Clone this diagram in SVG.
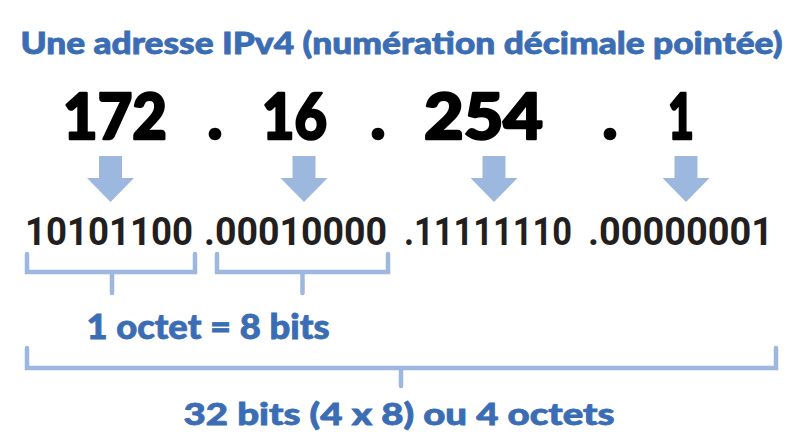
<svg xmlns="http://www.w3.org/2000/svg" width="800" height="440" viewBox="0 0 800 440">
<style>
.blue{fill:#3b6db5;stroke:#3b6db5;stroke-width:0.8;font-family:Lato,"Open Sans","Liberation Sans",sans-serif;font-weight:900}
.big{fill:#000;stroke:#000;stroke-width:2.4;stroke-linejoin:round;font-family:Lato,"Open Sans","Liberation Sans",sans-serif;font-weight:900;font-size:63px}
.bin{fill:#231f20;font-family:Roboto,"Liberation Sans",sans-serif;font-weight:700;font-size:38px}
.arrow{fill:#9db8de}
.br{fill:none;stroke:#9db8de;stroke-width:4.5;stroke-linecap:round;stroke-linejoin:miter}
</style>
<rect width="800" height="440" fill="#fff"/>
<g id="title"><text class="blue" x="20.5" y="54" font-size="30" textLength="762" lengthAdjust="spacingAndGlyphs">Une adresse IPv4 (numération décimale pointée)</text></g>
<g id="decimal">
<text class="big" x="63" y="139" textLength="104" lengthAdjust="spacingAndGlyphs">172</text>
<text class="big" x="215" y="139" text-anchor="middle">.</text>
<text class="big" x="262" y="139" textLength="65" lengthAdjust="spacingAndGlyphs">16</text>
<text class="big" x="378" y="139" text-anchor="middle">.</text>
<text class="big" x="424" y="139" textLength="119" lengthAdjust="spacingAndGlyphs">254</text>
<text class="big" x="610" y="139" text-anchor="middle">.</text>
<text class="big" x="668" y="139" textLength="26" lengthAdjust="spacingAndGlyphs">1</text>
</g>
<g id="binary">
<text class="bin" x="25" y="245" textLength="168" lengthAdjust="spacingAndGlyphs">10101100</text>
<text class="bin" x="204" y="245" textLength="183" lengthAdjust="spacingAndGlyphs">.00010000</text>
<text class="bin" x="404" y="245" textLength="168" lengthAdjust="spacingAndGlyphs">.11111110</text>
<text class="bin" x="588" y="245" textLength="185" lengthAdjust="spacingAndGlyphs">.00000001</text>
</g>
<g id="connectors">
<polygon class="arrow" points="99,156 122,156 122,178 134,178 110.5,202 87,178 99,178"/>
<polygon class="arrow" points="292.5,156 315.5,156 315.5,178 327.5,178 304,202 280.5,178 292.5,178"/>
<polygon class="arrow" points="482.5,156 505.5,156 505.5,178 517.5,178 494,202 470.5,178 482.5,178"/>
<polygon class="arrow" points="674.5,156 697.5,156 697.5,178 709.5,178 686,202 662.5,178 674.5,178"/>
<path class="br" d="M27,254 V272 H195 V254 M112,272 V293"/>
<path class="br" d="M217,254 V272 H388 V254 M302.5,272 V293"/>
<path class="br" d="M27,348 V368 H776 V348 M401,368 V386"/>
</g>
<g id="label-octet"><text class="blue" x="86.5" y="339" font-size="34" textLength="243" lengthAdjust="spacingAndGlyphs">1 octet = 8 bits</text></g>
<g id="label-total"><text class="blue" x="183.5" y="425" font-size="31" textLength="431" lengthAdjust="spacingAndGlyphs">32 bits (4 x 8) ou 4 octets</text></g>
</svg>
